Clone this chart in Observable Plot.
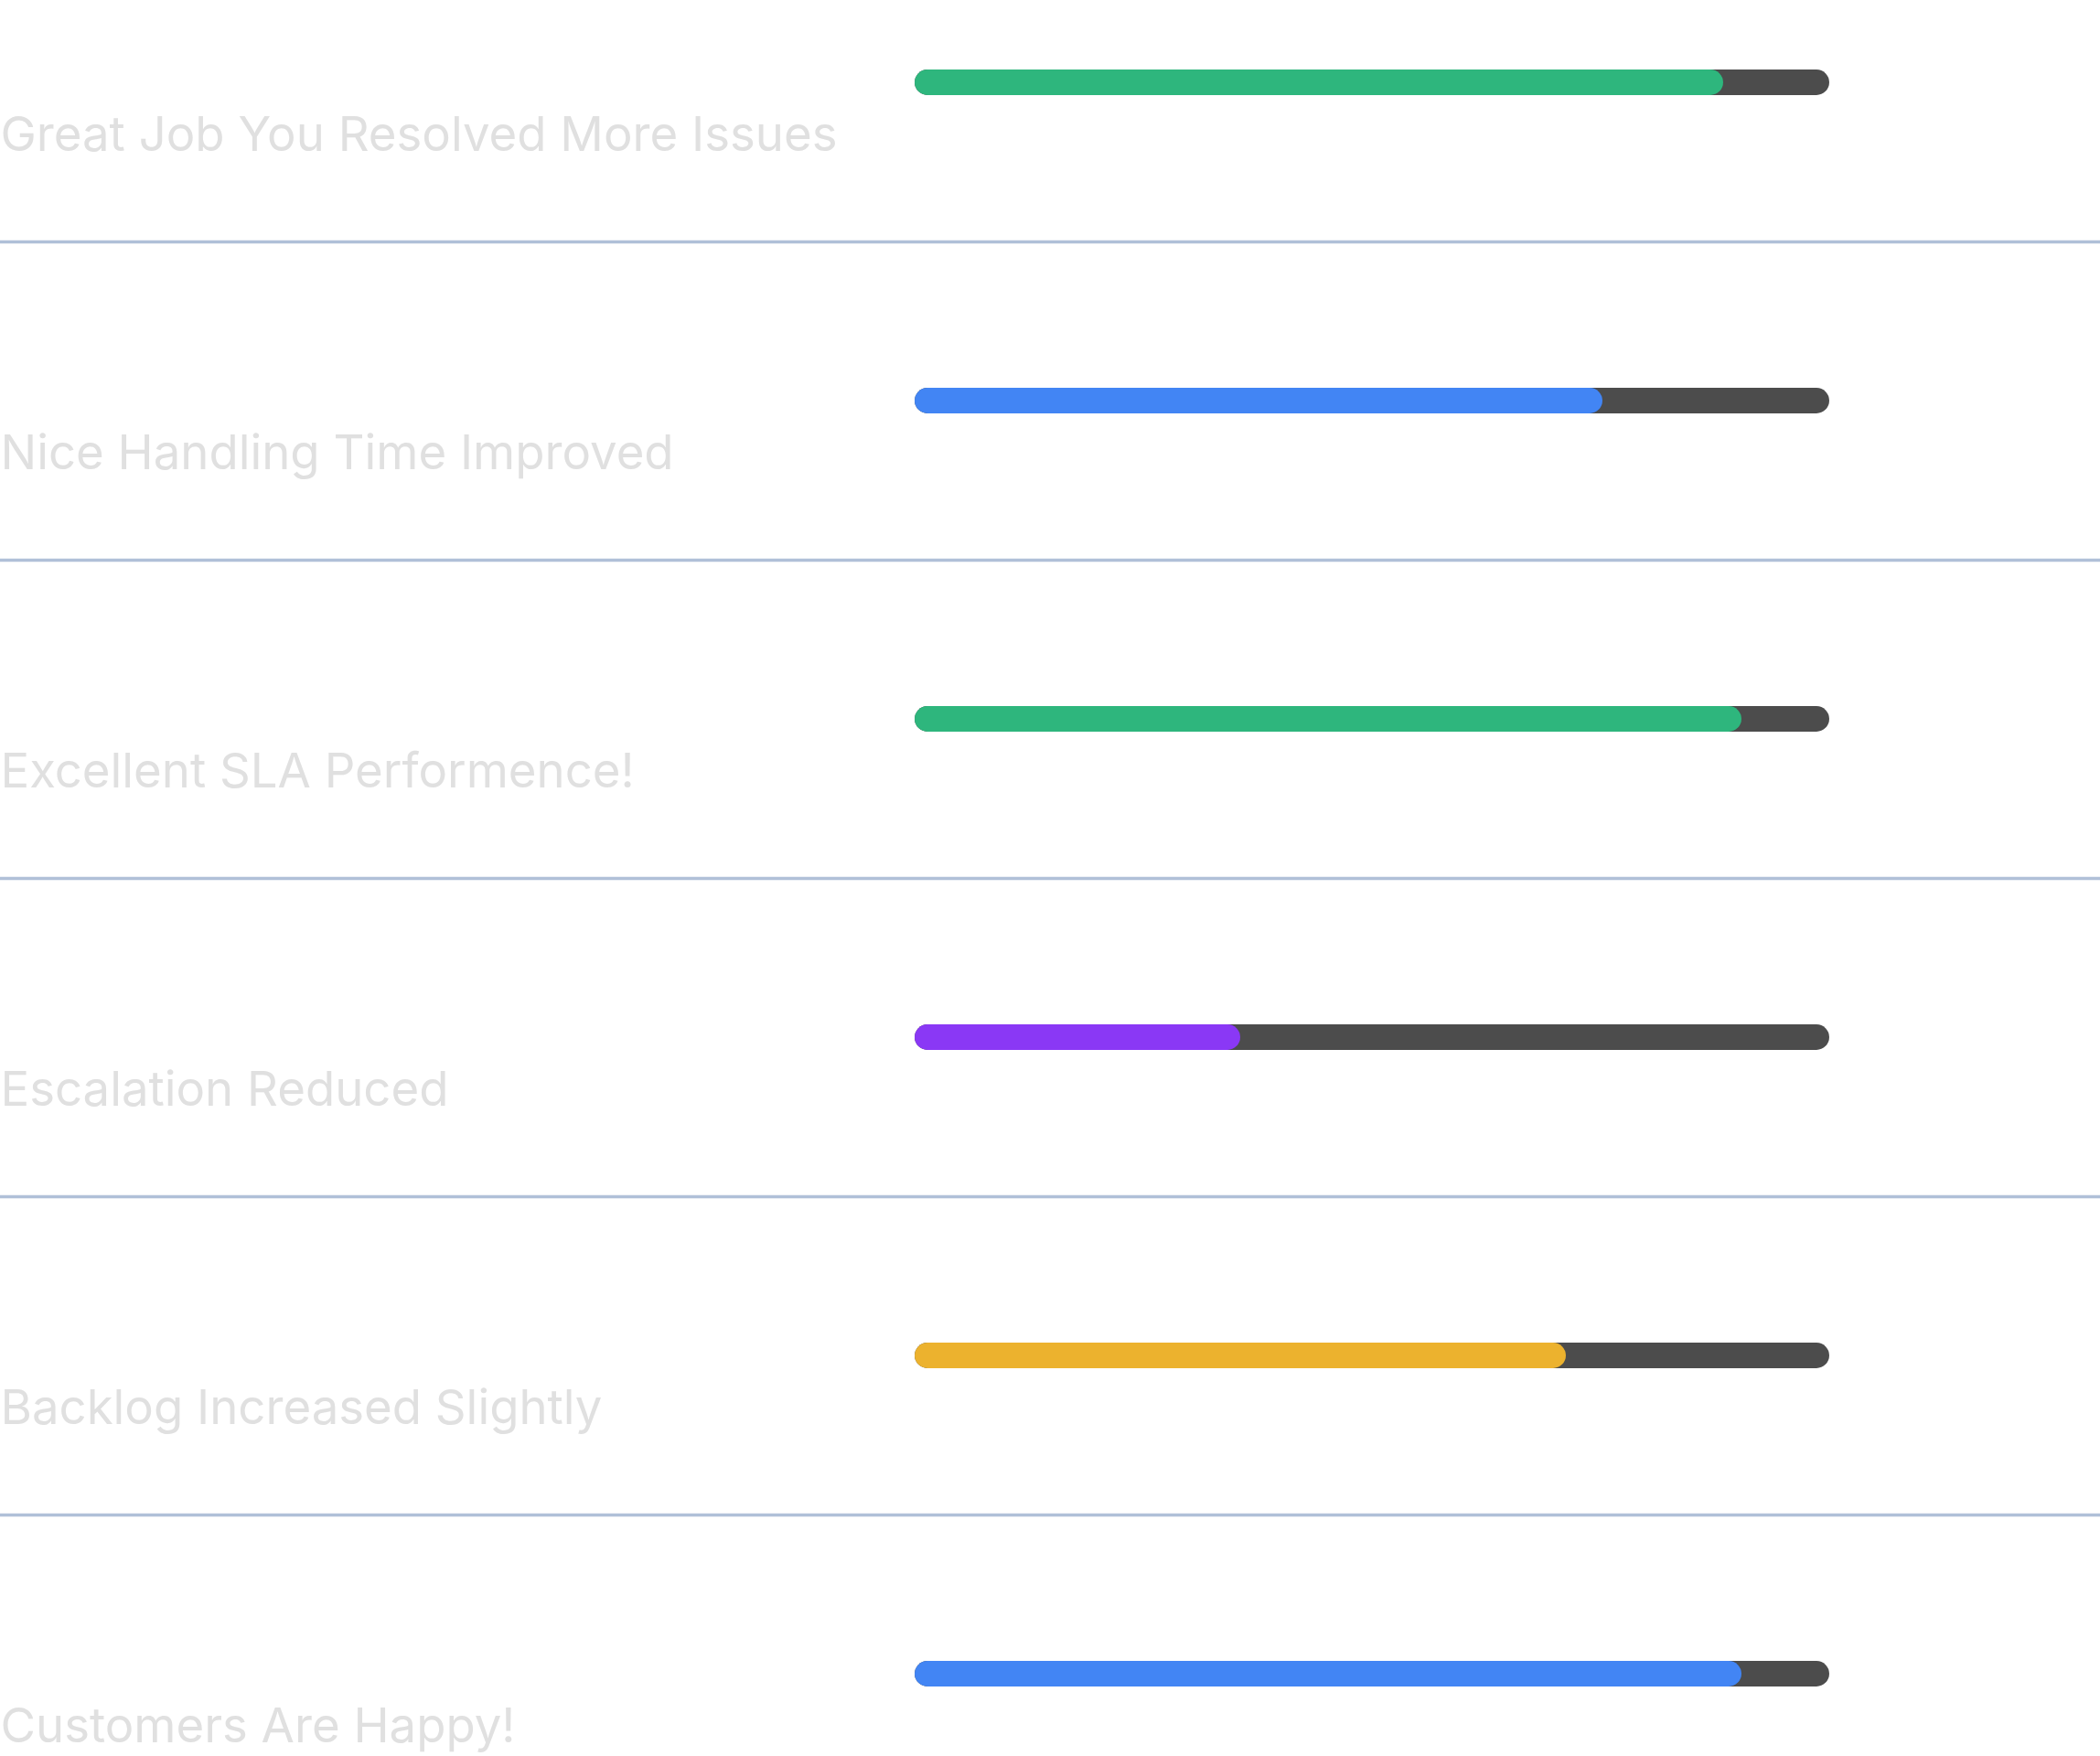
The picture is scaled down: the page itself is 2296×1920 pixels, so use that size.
<!DOCTYPE html>
<html>
<head>
<meta charset="utf-8">
<script src="https://cdn.jsdelivr.net/npm/d3@7"></script>
<script src="https://cdn.jsdelivr.net/npm/@observablehq/plot@0.6"></script>
<style>
  html, body { margin: 0; padding: 0; background: #ffffff; }
  #chart svg { display: block; }
</style>
</head>
<body>
<div id="chart"></div>
<script>
const labels = [
  "Great Job You Resolved More Issues",
  "Nice Handling Time Improved",
  "Excellent SLA Performence!",
  "Escalation Reduced",
  "Backlog Increased Slightly",
  "Customers Are Happy!"
];
const values = [88.4, 75.2, 90.4, 35.6, 71.2, 90.4];
const colors = ["#2EB67D", "#4285F4", "#2EB67D", "#8A38F5", "#ECB22E", "#4285F4"];
const maxValue = 100;

const data = labels.map((label, i) => ({label, value: values[i], color: colors[i]}));

const W = 2296, H = 1920;
const yRange = [-84.3, 2004.3];
const bandwidth = (yRange[1] - yRange[0]) / labels.length;
const barH = 28;
const inset = (bandwidth - barH) / 2;

const chart = Plot.plot({
  width: W,
  height: H,
  margin: 0,
  style: {background: "#ffffff", fontFamily: "Inter, sans-serif"},
  x: {domain: [0, maxValue], range: [1000, 2000], axis: null},
  y: {domain: labels, range: yRange, padding: 0, axis: null},
  marks: [
    Plot.ruleY(labels.slice(0, labels.length - 1), {
      y: d => d,
      stroke: "#B0C0D8",
      strokeWidth: 3.5,
      dy: bandwidth / 2
    }),
    Plot.barX(data, {
      y: "label",
      x1: 0,
      x2: () => maxValue,
      fill: "#4C4C4C",
      insetTop: inset,
      insetBottom: inset,
      rx: barH / 2
    }),
    Plot.barX(data, {
      y: "label",
      x1: 0,
      x2: "value",
      fill: "color",
      insetTop: inset,
      insetBottom: inset,
      rx: barH / 2
    }),
    Plot.text(data, {
      y: "label",
      text: "label",
      frameAnchor: "left",
      textAnchor: "start",
      lineAnchor: "bottom",
      dy: 74.5,
      fill: "#E0E0E0",
      fontSize: 52.7,
      fontFamily: "Inter, sans-serif"
    })
  ]
});
document.getElementById("chart").appendChild(chart);
</script>
</body>
</html>
